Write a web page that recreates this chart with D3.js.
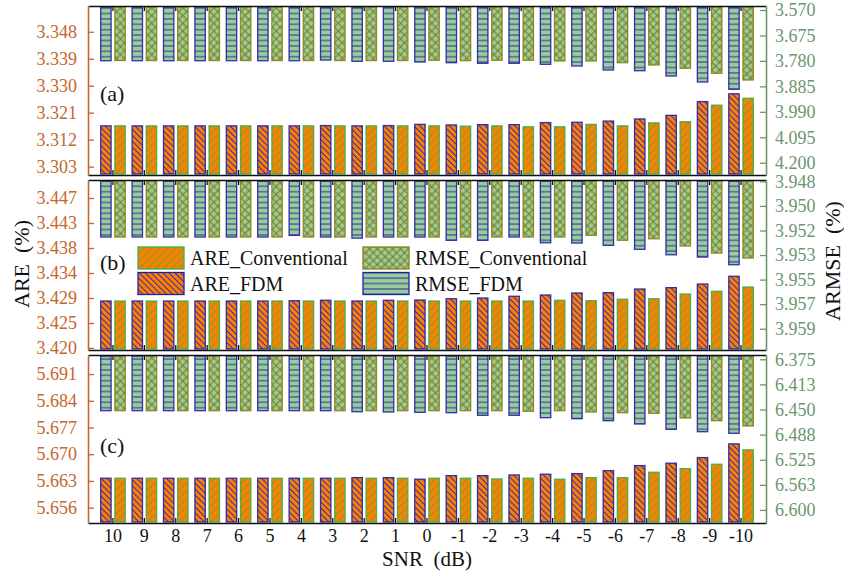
<!DOCTYPE html>
<html lang="en">
  <head>
    <meta charset="UTF-8" />
    <title>ARE / ARMSE vs SNR</title>
    <script src="https://d3js.org/d3.v7.min.js"></script>
    <style>
      body { margin: 0; background: #fff; }
      text { font-family: "Liberation Serif", "Times New Roman", serif; }
    </style>
  </head>

  <body>
    <script>
      // ---- data ----
      const snr = ["10","9","8","7","6","5","4","3","2","1","0","-1","-2","-3","-4","-5","-6","-7","-8","-9","-10"];

      // panel (a)
      const areFdmA   = [3.3166,3.3166,3.3166,3.3166,3.3166,3.3166,3.3166,3.3167,3.3166,3.3167,3.3171,3.3169,3.3170,3.3170,3.3177,3.3178,3.3182,3.3189,3.3201,3.3247,3.3273];
      const areConvA  = [3.3166,3.3166,3.3166,3.3166,3.3166,3.3166,3.3166,3.3166,3.3166,3.3166,3.3166,3.3165,3.3166,3.3163,3.3163,3.3171,3.3166,3.3176,3.3180,3.3235,3.3258];
      const rmseFdmA  = [3.7792,3.7792,3.7792,3.7792,3.7792,3.7792,3.7792,3.7764,3.7816,3.7816,3.7845,3.7874,3.7899,3.7899,3.7940,3.8010,3.8175,3.8204,3.8423,3.8670,3.8971];
      const rmseConvA = [3.7785,3.7785,3.7785,3.7785,3.7785,3.7785,3.7785,3.7785,3.7785,3.7785,3.7775,3.7790,3.7775,3.7775,3.7804,3.7804,3.7874,3.7970,3.8105,3.8311,3.8588];

      // panel (b)
      const areFdmB   = [3.42846,3.42846,3.42846,3.42846,3.42846,3.42846,3.42851,3.42859,3.42846,3.42859,3.42864,3.42887,3.42900,3.42931,3.42954,3.42990,3.42996,3.43062,3.43086,3.43152,3.43291];
      const areConvB  = [3.42846,3.42846,3.42846,3.42846,3.42846,3.42846,3.42846,3.42846,3.42846,3.42846,3.42846,3.42846,3.42846,3.42846,3.42859,3.42851,3.42877,3.42887,3.42972,3.43021,3.43098];
      const rmseFdmB  = [3.95208,3.95208,3.95208,3.95208,3.95208,3.95208,3.95196,3.95208,3.95216,3.95208,3.95208,3.95232,3.95232,3.95208,3.95250,3.95252,3.95269,3.95298,3.95338,3.95355,3.95411];
      const rmseConvB = [3.95208,3.95208,3.95208,3.95208,3.95208,3.95208,3.95208,3.95208,3.95208,3.95208,3.95208,3.95208,3.95208,3.95208,3.95208,3.95196,3.95232,3.95221,3.95274,3.95326,3.95362];

      // panel (c)
      const areFdmC   = [5.66371,5.66371,5.66371,5.66371,5.66371,5.66371,5.66371,5.66371,5.66387,5.66387,5.66345,5.66439,5.66439,5.66457,5.66476,5.66492,5.66570,5.66702,5.66765,5.66912,5.67271];
      const areConvC  = [5.66371,5.66371,5.66371,5.66371,5.66371,5.66371,5.66371,5.66371,5.66371,5.66371,5.66371,5.66371,5.66352,5.66371,5.66345,5.66387,5.66387,5.66528,5.66623,5.66738,5.67114];
      const rmseFdmC  = [6.45177,6.45177,6.45177,6.45177,6.45177,6.45177,6.45177,6.45177,6.45327,6.45372,6.45416,6.45476,6.45864,6.45864,6.46223,6.46372,6.46671,6.47164,6.47956,6.48314,6.48553];
      const rmseConvC = [6.45177,6.45177,6.45177,6.45177,6.45177,6.45177,6.45177,6.45177,6.45177,6.45177,6.45177,6.45177,6.45177,6.45267,6.45177,6.45372,6.45476,6.45566,6.46268,6.46671,6.47463];

      // tick values and labels
      const areTicksA  = [3.303,3.312,3.321,3.330,3.339,3.348];
      const areLabelsA = ["3.303","3.312","3.321","3.330","3.339","3.348"];
      const rmseTicksA  = [3.570,3.675,3.780,3.885,3.990,4.095,4.200];
      const rmseLabelsA = ["3.570","3.675","3.780","3.885","3.990","4.095","4.200"];
      const areTicksB  = [3.4200,3.4245,3.4290,3.4335,3.4380,3.4425,3.4470];
      const areLabelsB = ["3.420","3.425","3.429","3.434","3.438","3.443","3.447"];
      const rmseTicksB  = [3.9480,3.9498,3.9516,3.9534,3.9552,3.9570,3.9588];
      const rmseLabelsB = ["3.948","3.950","3.952","3.953","3.955","3.957","3.959"];
      const areTicksC  = [5.656,5.663,5.670,5.677,5.684,5.691];
      const areLabelsC = ["5.656","5.663","5.670","5.677","5.684","5.691"];
      const rmseTicksC  = [6.375,6.4125,6.450,6.4875,6.525,6.5625,6.600];
      const rmseLabelsC = ["6.375","6.413","6.450","6.488","6.525","6.563","6.600"];

      const seriesNames = ["ARE_Conventional","RMSE_Conventional","ARE_FDM","RMSE_FDM"];

      // ---- layout ----
      const width = 844, height = 571;
      const left = 88, right = 766;
      const leftColor = "#c4672c", rightColor = "#6c966c";
      const orange = "#ff8000", lightGreen = "#99cc99";
      const blue = "#1f1fa6", green = "#3aae45", olive = "#8a8214";

      const panels = [
        { tag: "(a)", top: 6,   bottom: 175, areDom: [3.3002, 3.3566], rmseDom: [3.5535, 4.2507], tagY: 101,
          areF: areFdmA, areC: areConvA, rmF: rmseFdmA, rmC: rmseConvA,
          lt: areTicksA, ll: areLabelsA, rt: rmseTicksA, rl: rmseLabelsA },
        { tag: "(b)", top: 180, bottom: 350, areDom: [3.41964, 3.45024], rmseDom: [3.9479, 3.96036], tagY: 270,
          areF: areFdmB, areC: areConvB, rmF: rmseFdmB, rmC: rmseConvB,
          lt: areTicksB, ll: areLabelsB, rt: rmseTicksB, rl: rmseLabelsB },
        { tag: "(c)", top: 355, bottom: 523, areDom: [5.65198, 5.69599], rmseDom: [6.36858, 6.61951], tagY: 453,
          areF: areFdmC, areC: areConvC, rmF: rmseFdmC, rmC: rmseConvC,
          lt: areTicksC, ll: areLabelsC, rt: rmseTicksC, rl: rmseLabelsC }
      ];

      const svg = d3.select("body")
        .append("svg")
        .attr("width", width)
        .attr("height", height);

      // hatch patterns
      const defs = svg.append("defs");
      function hatch(id, fill, color, angle, gap, lw, cross) {
        const p = defs.append("pattern")
          .attr("id", id)
          .attr("patternUnits", "userSpaceOnUse")
          .attr("width", gap).attr("height", gap)
          .attr("patternTransform", "rotate(" + angle + ")");
        p.append("rect").attr("width", gap).attr("height", gap).attr("fill", fill);
        p.append("line").attr("x1", 0).attr("x2", gap).attr("y1", gap / 2).attr("y2", gap / 2)
          .attr("stroke", color).attr("stroke-width", lw);
        if (cross) {
          p.append("line").attr("y1", 0).attr("y2", gap).attr("x1", gap / 2).attr("x2", gap / 2)
            .attr("stroke", color).attr("stroke-width", lw);
        }
      }
      hatch("areFdm", orange, "#2a2ab8", 45, 4.2, 1, false);
      hatch("areConv", orange, "#3cb043", -45, 5.6, 0.9, false);
      hatch("rmseFdm", lightGreen, "#2e2e9c", 0, 5.4, 1, false);
      hatch("rmseConv", lightGreen, "#7d7410", 45, 5.5, 1, true);

      const styles = {
        ARE_FDM:           { fill: "url(#areFdm)",   stroke: blue },
        ARE_Conventional:  { fill: "url(#areConv)",  stroke: green },
        RMSE_FDM:          { fill: "url(#rmseFdm)",  stroke: blue },
        RMSE_Conventional: { fill: "url(#rmseConv)", stroke: olive }
      };

      const x = d3.scaleBand().domain(snr).range([left, right]).paddingInner(0.18).paddingOuter(0.385);
      const sub = d3.scaleBand().domain(["FDM", "Conv"]).range([0, x.bandwidth()]).paddingInner(0.18);

      panels.forEach(function (p) {
        const yL = d3.scaleLinear().domain(p.areDom).range([p.bottom, p.top]);
        const yR = d3.scaleLinear().domain(p.rmseDom).range([p.top, p.bottom]);
        const g = svg.append("g");

        function bars(values, key, scale, fromTop, style) {
          g.selectAll(null)
            .data(values)
            .enter()
            .append("rect")
            .attr("x", (d, i) => x(snr[i]) + sub(key) + 0.6)
            .attr("width", sub.bandwidth() - 1.2)
            .attr("y", d => fromTop ? p.top + 1 : scale(d))
            .attr("height", d => fromTop ? scale(d) - p.top - 1 : p.bottom - 1 - scale(d))
            .attr("fill", styles[style].fill)
            .attr("stroke", styles[style].stroke)
            .attr("stroke-width", 1.3)
            .attr("stroke-opacity", 0.9);
        }
        bars(p.rmF, "FDM", yR, true, "RMSE_FDM");
        bars(p.rmC, "Conv", yR, true, "RMSE_Conventional");
        bars(p.areF, "FDM", yL, false, "ARE_FDM");
        bars(p.areC, "Conv", yL, false, "ARE_Conventional");

        // top / bottom frame with inward category ticks
        const xt = g.append("g").attr("transform", "translate(0," + p.top + ")")
          .call(d3.axisTop(x).tickSize(-5).tickSizeOuter(0).tickFormat(""));
        const xb = g.append("g").attr("transform", "translate(0," + p.bottom + ")")
          .call(d3.axisBottom(x).tickSize(-5).tickSizeOuter(0).tickPadding(6)
            .tickFormat(p.tag === "(c)" ? null : () => ""));
        [xt, xb].forEach(function (a) {
          a.select(".domain").attr("stroke", "#111").attr("stroke-width", 1.6);
          a.selectAll(".tick line").attr("stroke", "#111").attr("stroke-width", 1.3);
          a.selectAll("text").attr("font-size", 18).attr("fill", "#111")
            .style("font-family", "'Liberation Serif', serif");
        });

        const la = g.append("g").attr("transform", "translate(" + left + ",0)")
          .call(d3.axisLeft(yL).tickValues(p.lt).tickFormat((d, i) => p.ll[i])
            .tickSize(-6).tickSizeOuter(0).tickPadding(11));
        la.select(".domain").attr("stroke", leftColor).attr("stroke-width", 1.6);
        la.selectAll(".tick line").attr("stroke", leftColor).attr("stroke-width", 1.3);
        la.selectAll("text").attr("font-size", 18).attr("fill", leftColor)
          .style("font-family", "'Liberation Serif', serif");

        const ra = g.append("g").attr("transform", "translate(" + right + ",0)")
          .call(d3.axisRight(yR).tickValues(p.rt).tickFormat((d, i) => p.rl[i])
            .tickSize(-6).tickSizeOuter(0).tickPadding(9));
        ra.select(".domain").attr("stroke", rightColor).attr("stroke-width", 1.6);
        ra.selectAll(".tick line").attr("stroke", rightColor).attr("stroke-width", 1.3);
        ra.selectAll("text").attr("font-size", 18).attr("fill", rightColor)
          .style("font-family", "'Liberation Serif', serif");

        g.append("text")
          .attr("x", 100).attr("y", p.tagY)
          .attr("font-size", 22).attr("fill", "#111")
          .text(p.tag);
      });

      // legend (inside panel b)
      const legendPos = [[138, 247], [363, 247], [138, 272.5], [363, 272.5]];
      const legend = svg.append("g");
      seriesNames.forEach(function (name, i) {
        const pos = legendPos[i];
        legend.append("rect")
          .attr("x", pos[0]).attr("y", pos[1])
          .attr("width", 46).attr("height", 22)
          .attr("fill", styles[name].fill)
          .attr("stroke", styles[name].stroke)
          .attr("stroke-width", 1.3);
        legend.append("text")
          .attr("x", pos[0] + 52).attr("y", pos[1] + 18)
          .attr("font-size", 20).attr("fill", "#111")
          .text(name);
      });

      // axis titles
      svg.append("text")
        .attr("transform", "translate(29,264) rotate(-90)")
        .attr("text-anchor", "middle")
        .attr("font-size", 22).attr("fill", "#111")
        .style("white-space", "pre")
        .text("ARE  (%)");

      svg.append("text")
        .attr("transform", "translate(840,261) rotate(-90)")
        .attr("text-anchor", "middle")
        .attr("font-size", 22).attr("fill", "#111")
        .style("white-space", "pre")
        .text("ARMSE  (%)");

      svg.append("text")
        .attr("x", 427).attr("y", 566)
        .attr("text-anchor", "middle")
        .attr("font-size", 21).attr("fill", "#111")
        .style("white-space", "pre")
        .text("SNR  (dB)");
    </script>
  </body>
</html>
